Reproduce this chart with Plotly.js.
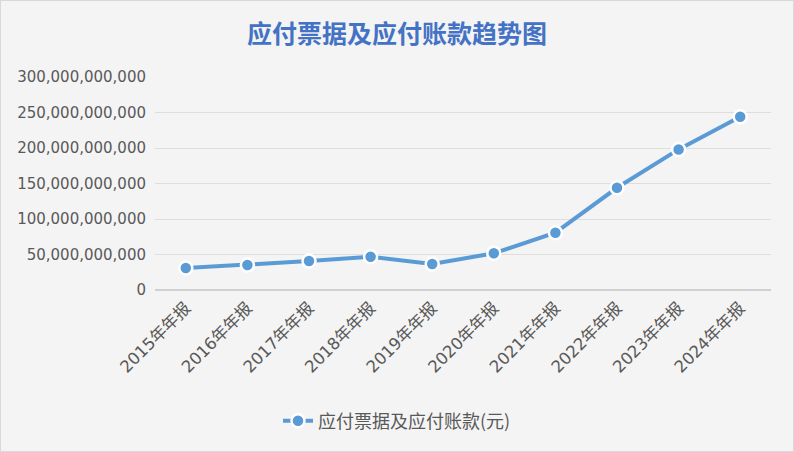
<!DOCTYPE html>
<html>
<head>
<meta charset="utf-8">
<script src="https://cdn.plot.ly/plotly-3.0.1.min.js"></script>
<style>
html,body{margin:0;padding:0;background:#fff;}
#chart{width:792px;height:450px;border:1px solid #d9d9d9;}
</style>
</head>
<body>
<div id="chart"></div>
<script>
const categories = ["2015年年报","2016年年报","2017年年报","2018年年报","2019年年报","2020年年报","2021年年报","2022年年报","2023年年报","2024年年报"];
const values = [31.0e9, 35.2e9, 40.8e9, 46.9e9, 36.6e9, 51.7e9, 80.7e9, 144.0e9, 198.0e9, 244.0e9];
const seriesName = "应付票据及应付账款(元)";
const chartTitle = "应付票据及应付账款趋势图";
const yTicks = [0, 50e9, 100e9, 150e9, 200e9, 250e9, 300e9];

const font = "'DejaVu Sans', 'Noto Sans CJK SC', sans-serif";
const cjk = "'Noto Sans CJK SC', 'Noto Sans', sans-serif";

Plotly.newPlot('chart', [{
  x: categories,
  y: values,
  name: seriesName,
  type: 'scatter',
  mode: 'lines+markers',
  line: {color: '#5b9bd5', width: 4},
  marker: {color: '#5b9bd5', size: 13, line: {color: '#ffffff', width: 2.5}},
  showlegend: true
}], {
  width: 792, height: 450,
  paper_bgcolor: '#f4f4f4',
  plot_bgcolor: '#f4f4f4',
  margin: {l: 154, r: 22, t: 76, b: 161},
  title: {text: chartTitle, font: {family: cjk, size: 25, color: '#4472c4', weight: 'bold'}, x: 0.5, xanchor: 'center', xref: 'container', yref: 'container', y: 1 - 33/450, yanchor: 'middle'},
  xaxis: {
    type: 'category',
    range: [-0.5, 9.5],
    tickangle: -45,
    tickfont: {family: font, size: 16.5, color: '#595959'},
    ticklabelstandoff: 4,
    showgrid: false,
    showline: false,
    zeroline: false,
    ticks: ''
  },
  yaxis: {
    range: [0, 300e9],
    tickvals: yTicks,
    tickformat: ',d',
    tickfont: {family: font, size: 15, color: '#595959'},
    ticklabelstandoff: 8,
    gridcolor: '#dedede',
    gridwidth: 1,
    zeroline: true,
    zerolinecolor: '#d0d0d0',
    zerolinewidth: 1.5,
    showline: false,
    ticks: '',
    ticklen: 0
  },
  legend: {
    orientation: 'h',
    xref: 'container', yref: 'container',
    x: 0.5, xanchor: 'center',
    y: 1 - 420/450, yanchor: 'middle',
    font: {family: cjk, size: 18, color: '#595959'},
    bgcolor: 'rgba(0,0,0,0)'
  }
}, {displayModeBar: false, staticPlot: true});
</script>
</body>
</html>
